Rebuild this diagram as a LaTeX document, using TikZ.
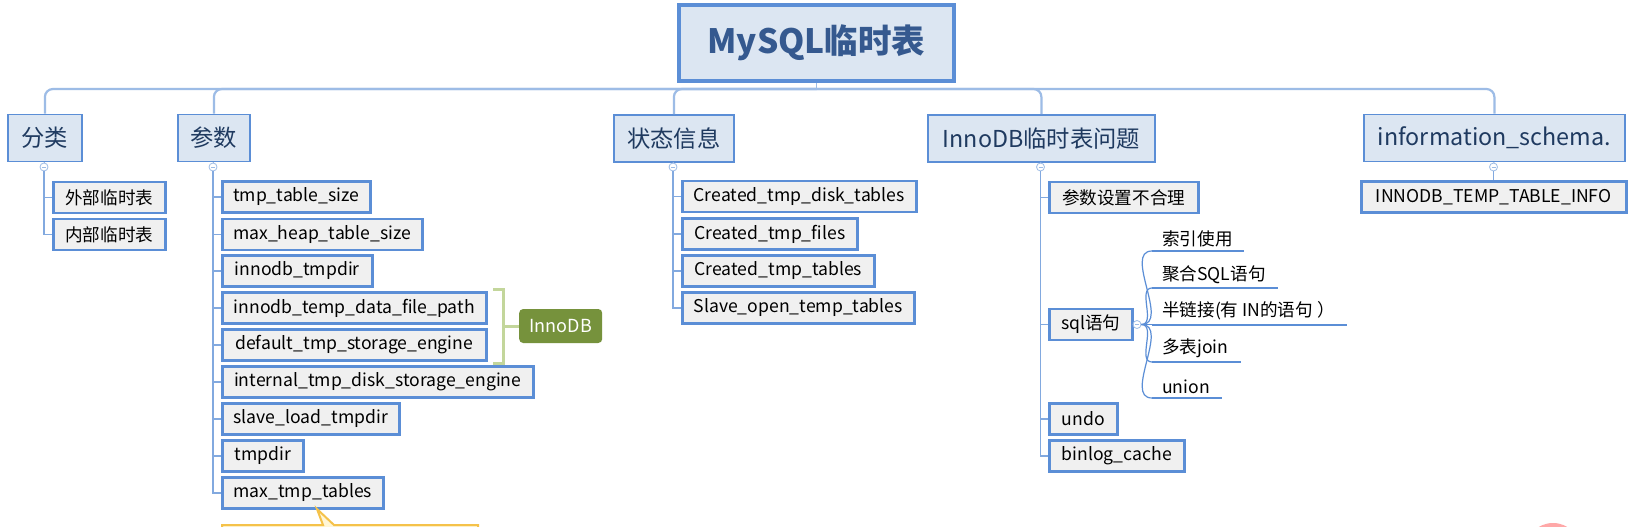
\documentclass[tikz,border=0pt]{standalone}
\usepackage{fontspec}
\setmainfont{Noto Sans CJK SC}
\definecolor{boxblue}{HTML}{5B8ED6}
\definecolor{lightblue}{HTML}{DCE6F2}
\definecolor{rootblue}{HTML}{35598F}
\definecolor{navy}{HTML}{1F3A60}
\definecolor{graybox}{HTML}{F0F0F0}
\definecolor{conn}{HTML}{82A9DF}
\definecolor{busc}{HTML}{9DBCE6}
\definecolor{bracketg}{HTML}{C3D69B}
\definecolor{olive}{HTML}{76923C}
\definecolor{yellowc}{HTML}{F5C24A}
\definecolor{yellowf}{HTML}{FFF6D6}
\definecolor{pinkc}{HTML}{FFA8A8}
\tikzset{
  rootbox/.style={draw=boxblue, line width=4pt, fill=lightblue, text=rootblue,
    font=\fontsize{33.5}{40}\selectfont\bfseries, minimum width=275pt, minimum height=76pt, inner sep=0pt},
  lone/.style={draw=boxblue, line width=1.8pt, fill=lightblue, text=navy,
    font=\fontsize{23.3}{28}\selectfont, minimum height=47pt, inner sep=0pt, anchor=north west},
  ltwo/.style={draw=boxblue, line width=2.5pt, fill=graybox, text=black,
    font=\fontsize{17.6}{21}\selectfont, minimum height=31pt, inner sep=0pt, anchor=west},
  leaf/.style={font=\fontsize{17.6}{21}\selectfont, inner xsep=0pt, inner ysep=4pt, anchor=south west},
  toggle/.style={circle, draw=busc, fill=white, line width=0.8pt, minimum size=8pt, inner sep=0pt,
    path picture={\draw[busc, line width=0.8pt] ([xshift=-2pt]path picture bounding box.center) -- ([xshift=2pt]path picture bounding box.center);}},
  cline/.style={conn, line width=1.6pt},
  bus/.style={busc, line width=2.2pt, rounded corners=8pt},
  uline/.style={boxblue, line width=2pt},
}
\newcommand{\leaftext}[2]{\makebox[#1pt][l]{\hspace*{10pt}#2}}
\begin{document}
\begin{tikzpicture}[x=1pt, y=-1pt]
\clip (0,0) rectangle (1631,527);
\fill[white] (0,0) rectangle (1631,527);

% root
\node[rootbox] (root) at (816.5,43) {MySQL临时表};
\coordinate (bus) at (816.5,89);

% level 1
\node[lone, minimum width=74pt] (cat) at (7,113.5) {分类};
\node[lone, minimum width=72pt] (param) at (177,113.5) {参数};
\node[lone, minimum width=120pt] (state) at (613,114) {状态信息};
\node[lone, minimum width=227pt] (inno) at (927,114) {InnoDB临时表问题};
\node[lone, minimum width=261pt] (info) at (1363,113.5) {information\_schema.};

\draw[busc, line width=1.2pt] (root.south) -- (bus);
\foreach \n in {cat,param,state,inno,info}{
  \draw[bus] (bus) -| (\n.north);
}

% toggles
\node[toggle] (tcat) at (44,167) {};
\node[toggle] (tparam) at (213,167) {};
\node[toggle] (tstate) at (673,167) {};
\node[toggle] (tinno) at (1040.5,167) {};
\node[toggle] (tinfo) at (1493.5,167) {};
\foreach \n/\t in {cat/tcat,param/tparam,state/tstate,inno/tinno,info/tinfo}{
  \draw[busc, line width=0.8pt] (\n.south) -- (\t.north);
}

% 分类 children
\node[ltwo, minimum width=112pt] (c1) at (52,197.5) {外部临时表};
\node[ltwo, minimum width=112pt] (c2) at (52,234.5) {内部临时表};
\foreach \n in {c1,c2}{ \draw[cline] (tcat.south) |- (\n.west); }

% 参数 children
\node[ltwo, minimum width=148pt] (p1) at (221,197) {tmp\_table\_size};
\node[ltwo, minimum width=200pt] (p2) at (221,234.5) {max\_heap\_table\_size};
\node[ltwo, minimum width=150pt] (p3) at (221,271) {innodb\_tmpdir};
\node[ltwo, minimum width=264pt] (p4) at (221,308) {innodb\_temp\_data\_file\_path};
\node[ltwo, minimum width=264pt] (p5) at (221,345) {default\_tmp\_storage\_engine};
\node[ltwo, minimum width=311pt] (p6) at (221,382) {internal\_tmp\_disk\_storage\_engine};
\node[ltwo, minimum width=177pt] (p7) at (221,419) {slave\_load\_tmpdir};
\node[ltwo, minimum width=81pt] (p8) at (221,456) {tmpdir};
\node[ltwo, minimum width=161pt] (p9) at (221,493) {max\_tmp\_tables};
\foreach \n in {p1,p2,p3,p4,p5,p6,p7,p8,p9}{ \draw[cline] (tparam.south) |- (\n.west); }

% bracket + InnoDB label
\node[fill=olive, text=white, rounded corners=4pt, font=\fontsize{18}{22}\selectfont,
  minimum width=83pt, minimum height=34pt, inner sep=0pt, anchor=west] (ilabel) at (519,326) {InnoDB};
\coordinate (bt) at (493,289);
\coordinate (bb) at (493,363);
\coordinate (bm) at (503,326);
\draw[bracketg, line width=3pt] (bt) -- (bt -| bm) -- (bb -| bm) -- (bb);
\draw[bracketg, line width=3pt] (bm) -- (ilabel.west);

% callout
\draw[yellowc, fill=yellowf, line width=2pt] (222,545) -- (222,525) -- (323,525) -- (317,509) -- (334,525) -- (478,525) -- (478,545);

% 状态信息 children
\node[ltwo, minimum width=234pt] (s1) at (681,196.5) {Created\_tmp\_disk\_tables};
\node[ltwo, minimum width=175pt] (s2) at (681,234) {Created\_tmp\_files};
\node[ltwo, minimum width=192pt] (s3) at (681,271) {Created\_tmp\_tables};
\node[ltwo, minimum width=232pt] (s4) at (681,308) {Slave\_open\_temp\_tables};
\foreach \n in {s1,s2,s3,s4}{ \draw[cline] (tstate.south) |- (\n.west); }

% InnoDB children
\node[ltwo, minimum width=149pt] (i1) at (1048,197.5) {参数设置不合理};
\node[ltwo, minimum width=83pt] (i2) at (1048,324.5) {sql语句};
\node[ltwo, minimum width=68pt] (i3) at (1048,419) {undo};
\node[ltwo, minimum width=135pt] (i4) at (1048,456) {binlog\_cache};
\foreach \n in {i1,i2,i3,i4}{ \draw[cline] (tinno.south) |- (\n.west); }

% sql children
\node[toggle] (tsql) at (1137,324.5) {};
\draw[busc, line width=0.8pt] (i2.east) -- (tsql.west);
\node[leaf] (q1) at (1152,251) {\leaftext{92}{索引使用}};
\node[leaf] (q2) at (1152,288) {\leaftext{126}{聚合SQL语句}};
\node[leaf] (q3) at (1152,324.5) {\leaftext{195}{半链接(有 IN的语句 ）}};
\node[leaf] (q4) at (1152,362) {\leaftext{89}{多表join}};
\node[leaf] (q5) at (1152,398) {\leaftext{70}{union}};
\foreach \n in {q1,q2,q3,q4,q5}{
  \draw[uline] (\n.south west) -- (\n.south east);
  \draw[boxblue, line width=1.2pt] (tsql.east) to[out=0, in=180] (\n.south west);
}

% info child
\node[ltwo, minimum width=265pt] (f1) at (1360,197) {INNODB\_TEMP\_TABLE\_INFO};
\draw[cline] (tinfo.south) -- (tinfo.south |- f1.north);

% pink marker (cut off)
\fill[pinkc] (1553,551) circle (28);
\end{tikzpicture}
\end{document}
